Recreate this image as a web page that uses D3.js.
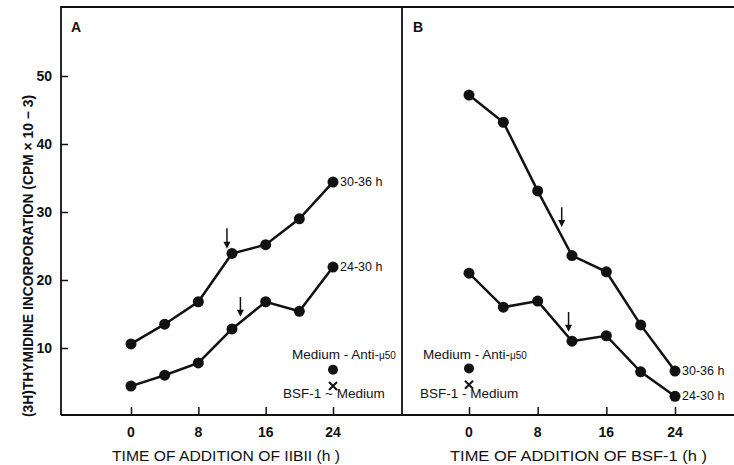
<!DOCTYPE html>
<html>
<head>
<meta charset="utf-8">
<script src="https://d3js.org/d3.v7.min.js"></script>
<style>
body { margin:0; background:#fff; }
text { font-family: "Liberation Sans", Arial, sans-serif; fill:#111; }
.lbl { font-size:12.5px; }
.ctl { font-size:13.5px; }
.tick { font-size:14px; font-weight:bold; }
</style>
</head>
<body>
<script>
// time of addition (h)
var times = [0, 4, 8, 12, 16, 20, 24];
// panel A (IIBII)
var a3036 = [10.6, 13.5, 16.8, 23.9, 25.2, 29.0, 34.4];
var a2430 = [4.4, 6.0, 7.8, 12.8, 16.8, 15.4, 21.9];
// panel B (BSF-1)
var b3036 = [47.2, 43.2, 33.1, 23.6, 21.2, 13.4, 6.6];
var b2430 = [21.0, 16.0, 16.9, 11.0, 11.8, 6.5, 2.9];
// arrows: [time, top value, bottom value]
var aArrows = [[11.4, 27.6, 24.6], [13.0, 17.5, 14.6]];
var bArrows = [[10.8, 30.7, 27.8], [11.6, 15.3, 12.4]];
// controls: [time, medium-anti-mu, bsf1-medium]
var aCtrl = [24, 6.8, 4.4];
var bCtrl = [0, 7.0, 4.6];
var yTicks = [10, 20, 30, 40, 50];
var xTicks = [0, 8, 16, 24];

var width = 734, height = 465;
var svg = d3.select("body").append("svg")
    .attr("width", width).attr("height", height);

var y = d3.scaleLinear().domain([0, 50]).range([416, 76]);
var frameTop = 7, frameBottom = 415;

// frame
svg.append("path")
    .attr("d", "M61," + frameBottom + "V" + frameTop + "H734M402," + frameTop + "V" + frameBottom + "M61," + frameBottom + "H734")
    .attr("fill", "none").attr("stroke", "#111").attr("stroke-width", 1.8);

// y axis
var yAxis = d3.axisRight(y).tickValues(yTicks).tickSize(7).tickFormat("");
var gy = svg.append("g").attr("transform", "translate(61,0)").call(yAxis);
gy.select(".domain").remove();
gy.selectAll("line").attr("stroke", "#111").attr("stroke-width", 1.5);
svg.selectAll(".ylab").data(yTicks).enter().append("text")
    .attr("class", "tick").attr("x", 52).attr("y", function(d) { return y(d) + 5; })
    .attr("text-anchor", "end").text(function(d) { return d; });

svg.append("text")
    .attr("transform", "translate(33,256) rotate(-90)")
    .attr("text-anchor", "middle")
    .attr("textLength", 322).attr("lengthAdjust", "spacingAndGlyphs")
    .style("font-size", "14px").style("font-weight", "bold")
    .text("(3H)THYMIDINE INCORPORATION (CPM \u00d7 10 \u2212 3)");

function panel(x, s1, s2, arrows, ctrl, letter, letterX, title, titleBox, ctrlLab) {
    var xAxis = d3.axisTop(x).tickValues(xTicks).tickSize(8).tickFormat("");
    var gx = svg.append("g").attr("transform", "translate(0," + frameBottom + ")").call(xAxis);
    gx.select(".domain").remove();
    gx.selectAll("line").attr("stroke", "#111").attr("stroke-width", 1.5);
    svg.selectAll(null).data(xTicks).enter().append("text")
        .attr("class", "tick").attr("x", function(d) { return x(d); }).attr("y", 437)
        .attr("text-anchor", "middle").text(function(d) { return d; });

    svg.append("text").attr("x", titleBox[0]).attr("y", 461)
        .attr("textLength", titleBox[1]).attr("lengthAdjust", "spacingAndGlyphs")
        .style("font-size", "15.5px")
        .text(title);
    svg.append("text").attr("x", letterX).attr("y", 32)
        .style("font-size", "14px").style("font-weight", "bold").text(letter);

    var line = d3.line().x(function(d, i) { return x(times[i]); }).y(function(d) { return y(d); });
    [s1, s2].forEach(function(s) {
        svg.append("path").datum(s).attr("d", line)
            .attr("fill", "none").attr("stroke", "#111").attr("stroke-width", 2.5);
        svg.selectAll(null).data(s).enter().append("circle")
            .attr("cx", function(d, i) { return x(times[i]); })
            .attr("cy", function(d) { return y(d); })
            .attr("r", 5.5).attr("fill", "#111");
    });
    svg.append("text").attr("class", "lbl").attr("x", x(24) + 7).attr("y", y(s1[6]) + 4).text("30-36 h");
    svg.append("text").attr("class", "lbl").attr("x", x(24) + 7).attr("y", y(s2[6]) + 4).text("24-30 h");

    arrows.forEach(function(a) {
        var ax = x(a[0]), y1 = y(a[1]), y2 = y(a[2]);
        svg.append("line").attr("x1", ax).attr("x2", ax).attr("y1", y1).attr("y2", y2 - 5)
            .attr("stroke", "#111").attr("stroke-width", 1.5);
        svg.append("path").attr("d", "M" + (ax - 3.5) + "," + (y2 - 7) + "L" + (ax + 3.5) + "," + (y2 - 7) + "L" + ax + "," + y2 + "Z")
            .attr("fill", "#111");
    });

    var cx = x(ctrl[0]);
    svg.append("circle").attr("cx", cx).attr("cy", y(ctrl[1])).attr("r", 5).attr("fill", "#111");
    var cy = y(ctrl[2]);
    svg.append("path").attr("d", "M" + (cx - 4) + "," + (cy - 4) + "L" + (cx + 4) + "," + (cy + 4) + "M" + (cx + 4) + "," + (cy - 4) + "L" + (cx - 4) + "," + (cy + 4))
        .attr("stroke", "#111").attr("stroke-width", 2);
    var t = svg.append("text").attr("class", "ctl").attr("x", ctrlLab[0]).attr("y", 359);
    t.append("tspan").text("Medium - Anti-");
    t.append("tspan").style("font-size", "10px").text("\u03bc50");
    svg.append("text").attr("class", "ctl").attr("x", ctrlLab[1]).attr("y", 398).text(ctrlLab[2]);
}

panel(d3.scaleLinear().domain([0, 24]).range([131, 333]), a3036, a2430, aArrows, aCtrl,
    "A", 71, "TIME OF ADDITION OF IIBII (h )", [112, 228], [292, 283, "BSF-1 ~ Medium"]);
panel(d3.scaleLinear().domain([0, 24]).range([469, 675]), b3036, b2430, bArrows, bCtrl,
    "B", 413, "TIME OF ADDITION OF BSF-1 (h )", [450, 257], [423, 420, "BSF-1 -  Medium"]);
</script>
</body>
</html>
